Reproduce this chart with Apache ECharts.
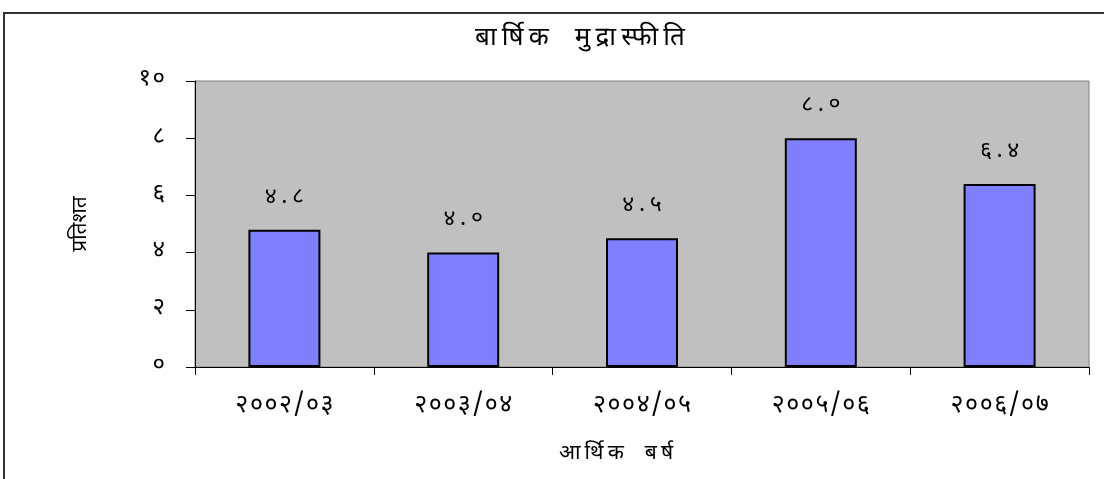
<!DOCTYPE html>
<html>
<head>
<meta charset="utf-8">
<script src="https://cdn.jsdelivr.net/npm/echarts@6/dist/echarts.min.js"></script>
<style>
  html, body { margin: 0; padding: 0; background: #fff; }
  #chart { width: 1104px; height: 479px; }
</style>
</head>
<body>
<div id="chart"></div>
<script>
// data
const titleWords = ['बार्षिक', 'मुद्रास्फीति']
const yName = 'प्रतिशत'
const xNameWords = ['आर्थिक', 'बर्ष']
const categories = ['२००२/०३', '२००३/०४', '२००४/०५', '२००५/०६', '२००६/०७']
const values = [4.8, 4.0, 4.5, 8.0, 6.4]
const yTicks = [0, 2, 4, 6, 8, 10]

const devDigits = '०१२३४५६७८९'
function toDev(s) {
    return String(s).replace(/[0-9]/g, d => devDigits[+d])
}
// the original text is letter-spaced, split on graphemes so conjuncts stay whole
const seg = window.Intl && Intl.Segmenter ? new Intl.Segmenter('ne', { granularity: 'grapheme' }) : null
function spaced(s, sep) {
    sep = sep || '\u2009'
    const parts = seg ? Array.from(seg.segment(s), x => x.segment) : Array.from(s)
    return parts.join(sep)
}

const font = "'Noto Sans Devanagari', 'Lohit Devanagari', 'Noto Sans', sans-serif"

const chart = echarts.init(document.getElementById('chart'))
const option = {
    backgroundColor: '#fff',
    animation: false,
    textStyle: { fontFamily: font, color: '#000' },
    title: {
        text: titleWords.map(w => spaced(w, '\u2009')).join('\u2003'),
        left: 575,
        top: 22,
        textAlign: 'center',
        textStyle: { fontSize: 26, fontWeight: 'normal', color: '#000', fontFamily: font }
    },
    graphic: [{
        type: 'rect',
        shape: { x: 4, y: 13, width: 1300, height: 700 },
        style: { fill: null, stroke: '#333', lineWidth: 2 },
        silent: true
    }],
    grid: {
        left: 195, right: 15, top: 81, bottom: 112,
        show: true,
        backgroundColor: '#C0C0C0',
        borderColor: '#808080',
        borderWidth: 1
    },
    xAxis: {
        type: 'category',
        data: categories,
        name: xNameWords.map(w => spaced(w, '\u2009')).join('\u2003'),
        nameLocation: 'middle',
        nameGap: 78,
        nameTextStyle: { fontSize: 21, color: '#000', padding: [0, 52, 0, 0] },
        axisLine: { lineStyle: { color: '#000', width: 1 } },
        axisTick: { show: true, length: 8, lineStyle: { color: '#000' } },
        axisLabel: {
            margin: 28,
            fontSize: 25,
            color: '#000',
            formatter: v => spaced(v, '\u200A')
        }
    },
    yAxis: {
        type: 'value',
        min: yTicks[0],
        max: yTicks[yTicks.length - 1],
        interval: 2,
        name: yName,
        nameLocation: 'middle',
        nameGap: 102,
        nameTextStyle: { fontSize: 21, color: '#000' },
        axisLine: { show: true, lineStyle: { color: '#000', width: 1 } },
        axisTick: { show: true, length: 9, lineStyle: { color: '#000' } },
        splitLine: { show: false },
        axisLabel: {
            margin: 30,
            fontSize: 24,
            color: '#000',
            formatter: v => spaced(toDev(v), '\u200A')
        }
    },
    series: [{
        type: 'bar',
        data: values,
        barWidth: 72,
        itemStyle: { color: '#8080FF', borderColor: '#000', borderWidth: 2 },
        label: {
            show: true,
            position: 'top',
            distance: 20,
            fontSize: 23,
            color: '#000',
            fontFamily: font,
            formatter: p => spaced(toDev(p.value.toFixed(1)), '\u2009')
        }
    }]
}
chart.setOption(option)
</script>
</body>
</html>
